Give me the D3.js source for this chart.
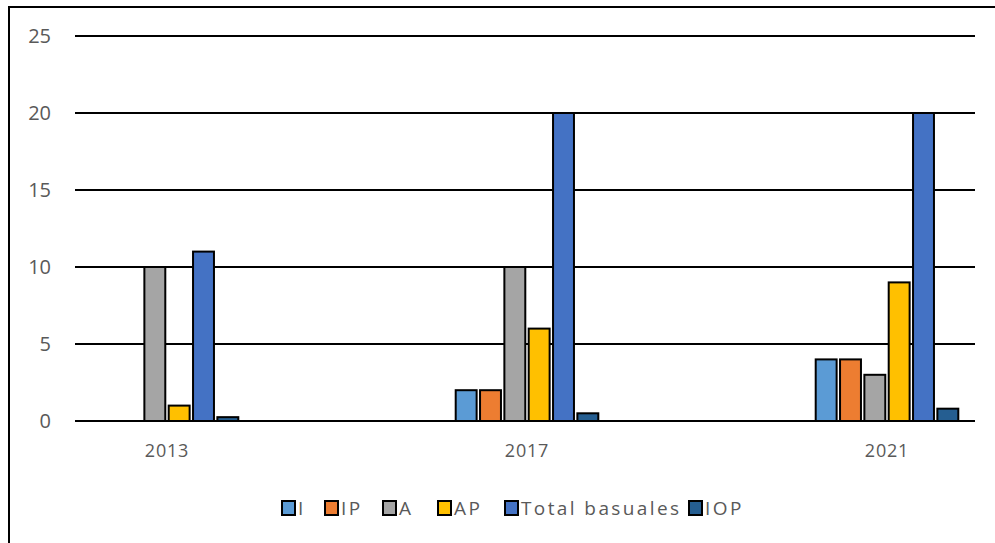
<!DOCTYPE html>
<html><head><meta charset="utf-8">
<script src="https://cdn.jsdelivr.net/npm/d3@7"></script>
<style>body{margin:0;background:#fff;} svg{display:block;}</style>
</head><body>
<svg id="c" width="995" height="543"></svg>
<script>
const categories = ["2013", "2017", "2021"];
const seriesNames = ["I", "IP", "A", "AP", "Total basuales", "IOP"];
const seriesI = [0, 2, 4];
const seriesIP = [0, 2, 4];
const seriesA = [10, 10, 3];
const seriesAP = [1, 6, 9];
const seriesTotal = [11, 20, 20];
const seriesIOP = [0.25, 0.5, 0.8];
const yTicks = [0, 5, 10, 15, 20, 25];
const colors = ["#5B9BD5", "#ED7D31", "#A5A5A5", "#FFC000", "#4472C4", "#255E91"];

const allSeries = [seriesI, seriesIP, seriesA, seriesAP, seriesTotal, seriesIOP];
const svg = d3.select("#c");
const W = 995, H = 543;
const FONT = "'Open Sans', sans-serif";

// frame
svg.append("rect").attr("x", 9).attr("y", 7).attr("width", W + 10).attr("height", H + 10)
  .attr("fill", "#fff").attr("stroke", "#000").attr("stroke-width", 2);

const plotL = 75, plotR = 975;
const y = d3.scaleLinear().domain([0, 25]).range([421, 36]);
const x = d3.scaleBand().domain(categories).range([-13, 1067]);
const xs = d3.scaleBand().domain(seriesNames).range([0, 146]).paddingInner(0.14).paddingOuter(0.07);

// gridlines
svg.append("g").selectAll("line").data(yTicks).join("line")
  .attr("x1", plotL).attr("x2", plotR)
  .attr("y1", d => y(d)).attr("y2", d => y(d))
  .attr("stroke", "#000").attr("stroke-width", 2);

// y labels
svg.append("g").selectAll("text").data(yTicks).join("text")
  .attr("x", 51).attr("y", d => y(d)).attr("dy", "0.36em")
  .attr("text-anchor", "end")
  .attr("font-family", FONT).attr("font-size", 20)
  .attr("fill", "#595959").text(d => d);

// bars
const bars = [];
categories.forEach((c, ci) => {
  seriesNames.forEach((s, si) => {
    bars.push({c, s, si, v: allSeries[si][ci]});
  });
});
const groupW = 146;
svg.append("g").selectAll("rect").data(bars.filter(d => d.v > 0)).join("rect")
  .attr("x", d => x(d.c) + x.bandwidth() / 2 - groupW / 2 + xs(d.s))
  .attr("width", xs.bandwidth())
  .attr("y", d => y(d.v))
  .attr("height", d => y(0) - y(d.v))
  .attr("fill", d => colors[d.si])
  .attr("stroke", "#000").attr("stroke-width", 2);

// baseline redraw
svg.append("line").attr("x1", plotL).attr("x2", plotR).attr("y1", y(0)).attr("y2", y(0))
  .attr("stroke", "#000").attr("stroke-width", 2);

// x labels
svg.append("g").selectAll("text").data(categories).join("text")
  .attr("x", d => x(d) + x.bandwidth() / 2).attr("y", 451).attr("dy", "0.36em")
  .attr("text-anchor", "middle")
  .attr("font-family", FONT).attr("font-size", 18).attr("letter-spacing", "0.8px")
  .attr("fill", "#595959").text(d => d);

// legend
const legendX = [282, 325, 383, 438, 505, 689];
const lg = svg.append("g").selectAll("g").data(seriesNames).join("g")
  .attr("transform", (d, i) => `translate(${legendX[i]},508)`);
lg.append("rect").attr("x", 0).attr("y", -7).attr("width", 13).attr("height", 14)
  .attr("fill", (d, i) => colors[i]).attr("stroke", "#000").attr("stroke-width", 2);
lg.append("text").attr("x", 16).attr("y", 0).attr("dy", "0.36em")
  .attr("font-family", FONT).attr("font-size", 19)
  .attr("letter-spacing", "2.4px")
  .attr("fill", "#595959").text(d => d);
</script>
</body></html>
